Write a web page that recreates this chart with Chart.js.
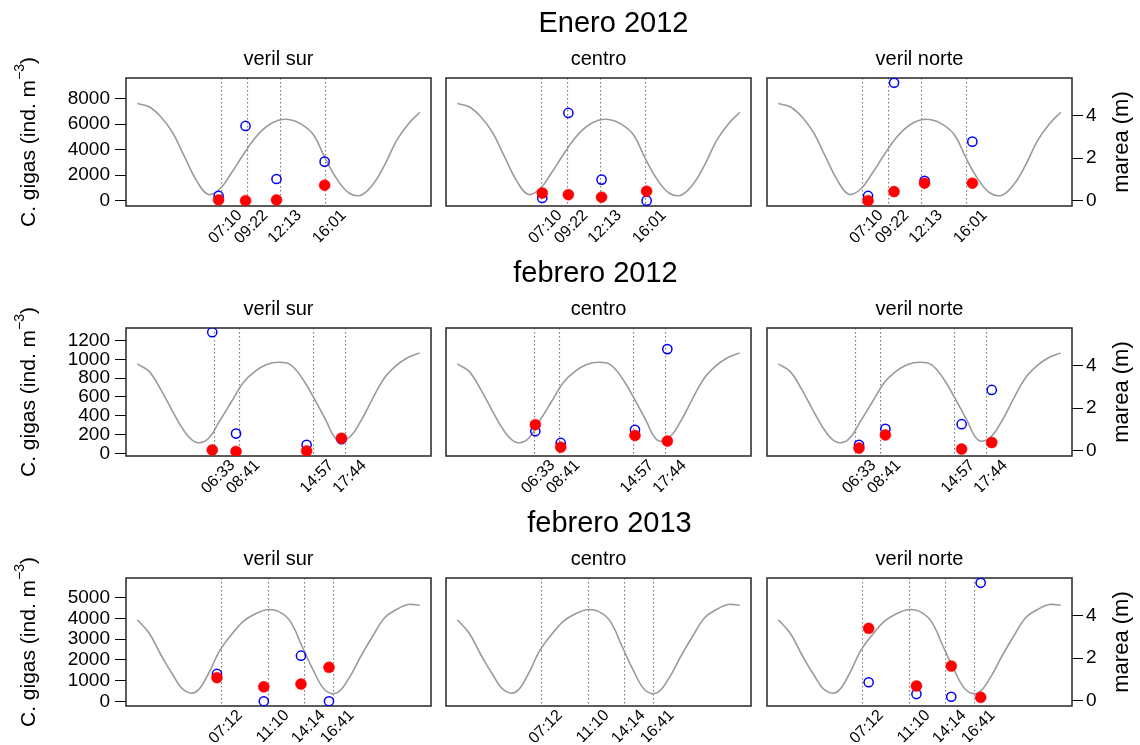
<!DOCTYPE html>
<html>
<head>
<meta charset="utf-8">
<script src="https://cdn.jsdelivr.net/npm/chart.js@4/dist/chart.umd.min.js"></script>
<style>
  html, body { margin: 0; padding: 0; background: #ffffff; }
  #wrap { position: relative; width: 1140px; height: 745px; overflow: hidden; }
  #wrap canvas { position: absolute; left: 0; top: 0; }
</style>
</head>
<body>
<div id="wrap"></div>
<script>
// ---- tide height (m), read every hour of the sampling day ----
const tideHours = [0, 1, 2, 3, 4, 5, 6, 7, 8, 9, 10, 11, 12, 13, 14, 15, 16, 17, 18, 19, 20, 21, 22, 23, 24];
const tideEne2012 = [4.57, 4.42, 3.95, 3.20, 2.08, 0.98, 0.30, 0.55, 1.30, 2.16, 2.95, 3.50, 3.78, 3.81, 3.58, 3.08, 1.95, 0.99, 0.36, 0.26, 0.75, 1.66, 2.79, 3.58, 4.16];
const tideFeb2012 = [4.08, 3.73, 2.87, 1.85, 0.91, 0.40, 0.55, 1.40, 2.30, 3.20, 3.73, 4.05, 4.16, 4.05, 3.42, 2.48, 1.46, 0.50, 0.62, 1.40, 2.45, 3.42, 4.00, 4.38, 4.60];
const tideFeb2013 = [3.81, 3.18, 2.16, 1.23, 0.48, 0.42, 1.22, 2.35, 3.10, 3.73, 4.08, 4.28, 4.20, 3.73, 2.56, 1.38, 0.48, 0.38, 1.07, 2.09, 3.03, 3.89, 4.28, 4.52, 4.49];

// ---- sampling times marked on the x axis ----
const timesEne2012 = ['07:10', '09:22', '12:13', '16:01'];
const timesFeb2012 = ['06:33', '08:41', '14:57', '17:44'];
const timesFeb2013 = ['07:12', '11:10', '14:14', '16:41'];

// ---- C. gigas abundance (ind. m-3): hour of each sample, open (blue) and filled (red) values ----
const ene2012SurHours = [6.91, 9.20, 11.83, 15.92];
const ene2012SurBlue  = [370, 5860, 1700, 3060];
const ene2012SurRed   = [60, 0, 60, 1210];
const ene2012CenHours = [7.22, 9.44, 12.26, 16.09];
const ene2012CenBlue  = [210, 6880, 1650, 0];
const ene2012CenRed   = [600, 470, 270, 740];
const ene2012NorHours = [7.63, 9.84, 12.43, 16.49];
const ene2012NorBlue  = [370, 9250, 1550, 4630];
const ene2012NorRed   = [0, 710, 1370, 1370];

const feb2012SurHours = [6.37, 8.39, 14.39, 17.35];
const feb2012SurBlue  = [1290, 210, 90, 150];
const feb2012SurRed   = [35, 20, 25, 160];
const feb2012CenHours = [6.63, 8.79, 15.10, 17.85];
const feb2012CenBlue  = [235, 110, 250, 1110];
const feb2012CenRed   = [305, 65, 190, 130];
const feb2012NorHours = [6.86, 9.10, 15.58, 18.14];
const feb2012NorBlue  = [90, 260, 310, 675];
const feb2012NorRed   = [55, 195, 45, 115];

const feb2013SurHours = [6.77, 10.75, 13.91, 16.29];
const feb2013SurBlue  = [1320, 0, 2200, 0];
const feb2013SurRed   = [1140, 700, 830, 1640];
const feb2013CenHours = [];
const feb2013CenBlue  = [];
const feb2013CenRed   = [];
const feb2013NorHours = [7.68, 11.74, 14.70, 17.20];
const feb2013NorBlue  = [920, 350, 220, 5720];
const feb2013NorRed   = [3520, 740, 1700, 190];

// ---- axis ticks ----
const ticksEne2012 = [0, 2000, 4000, 6000, 8000];
const ticksFeb2012 = [0, 200, 400, 600, 800, 1000, 1200];
const ticksFeb2013 = [0, 1000, 2000, 3000, 4000, 5000];
const tideTicks = [0, 2, 4];
const siteNames = ['veril sur', 'centro', 'veril norte'];

// ---- figure layout ----
const FONT = "'Liberation Sans', Arial, Helvetica, sans-serif";
const PAGE_W = 1140, PAGE_H = 745;
const BOX_W = 305, BOX_H = 128;
const boxLefts = [126, 446, 767];
const rowTops = [78, 328, 578];
const titleShift = [15, -3, 11];
const Y_W = 60, Y2_W = 62, X_H = 36;

const toHours = s => { const [h, m] = s.split(':').map(Number); return h + m / 60; };

const rows = [
  { title: 'Enero 2012', tide: tideEne2012, times: timesEne2012, yTicks: ticksEne2012, yMin: -420, yMax: 9624,
    sites: [
      { hours: ene2012SurHours, blue: ene2012SurBlue, red: ene2012SurRed },
      { hours: ene2012CenHours, blue: ene2012CenBlue, red: ene2012CenRed },
      { hours: ene2012NorHours, blue: ene2012NorBlue, red: ene2012NorRed } ] },
  { title: 'febrero 2012', tide: tideFeb2012, times: timesFeb2012, yTicks: ticksFeb2012, yMin: -29, yMax: 1335,
    sites: [
      { hours: feb2012SurHours, blue: feb2012SurBlue, red: feb2012SurRed },
      { hours: feb2012CenHours, blue: feb2012CenBlue, red: feb2012CenRed },
      { hours: feb2012NorHours, blue: feb2012NorBlue, red: feb2012NorRed } ] },
  { title: 'febrero 2013', tide: tideFeb2013, times: timesFeb2013, yTicks: ticksFeb2013, yMin: -227, yMax: 5951,
    sites: [
      { hours: feb2013SurHours, blue: feb2013SurBlue, red: feb2013SurRed },
      { hours: feb2013CenHours, blue: feb2013CenBlue, red: feb2013CenRed },
      { hours: feb2013NorHours, blue: feb2013NorBlue, red: feb2013NorRed } ] }
];

// Frame, panel headings and the outer axis titles
const panelText = {
  id: 'panelText',
  beforeDatasetsDraw(chart, args, opts) {
    const { ctx, chartArea: a } = chart;
    ctx.save();
    ctx.strokeStyle = '#333333';
    ctx.lineWidth = 1.6;
    ctx.strokeRect(a.left, a.top, a.width, a.height);
    ctx.restore();
  },
  afterDraw(chart, args, opts) {
    const { ctx, chartArea: a } = chart;
    const cx = (a.left + a.right) / 2;
    const cy = (a.top + a.bottom) / 2;
    ctx.save();
    ctx.fillStyle = '#000000';
    ctx.textAlign = 'center';
    ctx.textBaseline = 'alphabetic';
    ctx.font = '20px ' + FONT;
    ctx.fillText(opts.site, cx, a.top - 13);
    if (opts.title) {
      ctx.font = '29px ' + FONT;
      ctx.fillText(opts.title, cx + opts.titleShift, a.top - 46);
    }
    if (opts.leftTitle) {
      ctx.save();
      ctx.translate(34.5, cy);
      ctx.rotate(-Math.PI / 2);
      ctx.textAlign = 'left';
      const main = 'C. gigas (ind. m', sup = '\u22123', close = ')';
      ctx.font = '21px ' + FONT;
      const w1 = ctx.measureText(main).width, w3 = ctx.measureText(close).width;
      ctx.font = '14px ' + FONT;
      const w2 = ctx.measureText(sup).width;
      let x = -(w1 + w2 + w3) / 2;
      ctx.font = '21px ' + FONT;
      ctx.fillText(main, x, 0);
      x += w1;
      ctx.font = '14px ' + FONT;
      ctx.fillText(sup, x, -11);
      x += w2;
      ctx.font = '21px ' + FONT;
      ctx.fillText(close, x, 0);
      ctx.restore();
    }
    if (opts.rightTitle) {
      ctx.save();
      ctx.translate(1128, cy);
      ctx.rotate(-Math.PI / 2);
      ctx.textAlign = 'center';
      ctx.font = '22px ' + FONT;
      ctx.fillText(opts.rightTitle, 0, 0);
      ctx.restore();
    }
    ctx.restore();
  }
};

const wrap = document.getElementById('wrap');

function drawPanel(r, col, rowIdx) {
  const site = r.sites[col];
  const L = boxLefts[col], T = rowTops[rowIdx];
  const showY = col === 0, showY2 = col === 2;
  const canvas = document.createElement('canvas');
  canvas.width = PAGE_W;
  canvas.height = PAGE_H;
  wrap.appendChild(canvas);

  const lineHours = r.times.map(toHours);

  new Chart(canvas, {
    type: 'scatter',
    data: {
      datasets: [
        {
          type: 'scatter', label: 'rojo', order: 0, xAxisID: 'x', yAxisID: 'y',
          data: site.hours.map((h, i) => ({ x: h, y: site.red[i] })),
          pointRadius: 5.5, pointBackgroundColor: '#ff0000', pointBorderColor: '#ff0000', pointBorderWidth: 0.5
        },
        {
          type: 'scatter', label: 'azul', order: 1, xAxisID: 'x', yAxisID: 'y',
          data: site.hours.map((h, i) => ({ x: h, y: site.blue[i] })),
          pointRadius: 4.6, pointBackgroundColor: 'rgba(0,0,0,0)', pointBorderColor: '#0000ff', pointBorderWidth: 1.5
        },
        {
          type: 'line', label: 'marea', order: 2, xAxisID: 'x', yAxisID: 'y2',
          data: tideHours.map((h, i) => ({ x: h, y: r.tide[i] })),
          borderColor: '#9a9a9a', borderWidth: 1.6, pointRadius: 0, tension: 0.4, fill: false
        }
      ]
    },
    options: {
      responsive: false,
      animation: false,
      devicePixelRatio: 1,
      events: [],
      layout: {
        padding: {
          left: L - (showY ? Y_W : 0),
          right: PAGE_W - (L + BOX_W) - (showY2 ? Y2_W : 0),
          top: T,
          bottom: PAGE_H - (T + BOX_H) - X_H
        }
      },
      plugins: {
        legend: { display: false },
        title: { display: false },
        tooltip: { enabled: false },
        panelText: {
          site: siteNames[col],
          title: col === 1 ? r.title : '',
          titleShift: titleShift[rowIdx],
          leftTitle: showY,
          rightTitle: showY2 ? 'marea (m)' : ''
        }
      },
      scales: {
        x: {
          type: 'linear', position: 'bottom', min: -0.96, max: 24.96,
          afterBuildTicks: s => { s.ticks = lineHours.map(v => ({ value: v })); },
          afterFit: s => { s.height = X_H; },
          ticks: {
            autoSkip: false, minRotation: 45, maxRotation: 45, padding: 0, labelOffset: 18,
            font: { family: FONT, size: 16 }, color: '#000000',
            callback: (v, i) => r.times[i]
          },
          grid: { display: true, drawOnChartArea: true, drawTicks: false, color: '#777777', lineWidth: 1.1 },
          border: { display: false, dash: [1.5, 2.5] }
        },
        y: {
          type: 'linear', position: 'left', display: showY, min: r.yMin, max: r.yMax,
          afterBuildTicks: s => { s.ticks = r.yTicks.map(v => ({ value: v })); },
          afterFit: s => { if (showY) s.width = Y_W; },
          ticks: { autoSkip: false, font: { family: FONT, size: 19 }, color: '#000000', padding: 5, callback: v => String(v) },
          grid: { drawOnChartArea: false, drawTicks: true, tickLength: 11, tickColor: '#000000', tickWidth: 1 },
          border: { display: false }
        },
        y2: {
          type: 'linear', position: 'right', display: showY2, min: -0.25, max: 5.77,
          afterBuildTicks: s => { s.ticks = tideTicks.map(v => ({ value: v })); },
          afterFit: s => { if (showY2) s.width = Y2_W; },
          ticks: { autoSkip: false, font: { family: FONT, size: 19 }, color: '#000000', padding: 3, callback: v => String(v) },
          grid: { drawOnChartArea: false, drawTicks: true, tickLength: 11, tickColor: '#000000', tickWidth: 1 },
          border: { display: false }
        }
      }
    },
    plugins: [panelText]
  });
}

rows.forEach((r, rowIdx) => {
  for (let col = 0; col < 3; col++) drawPanel(r, col, rowIdx);
});
</script>
</body>
</html>
